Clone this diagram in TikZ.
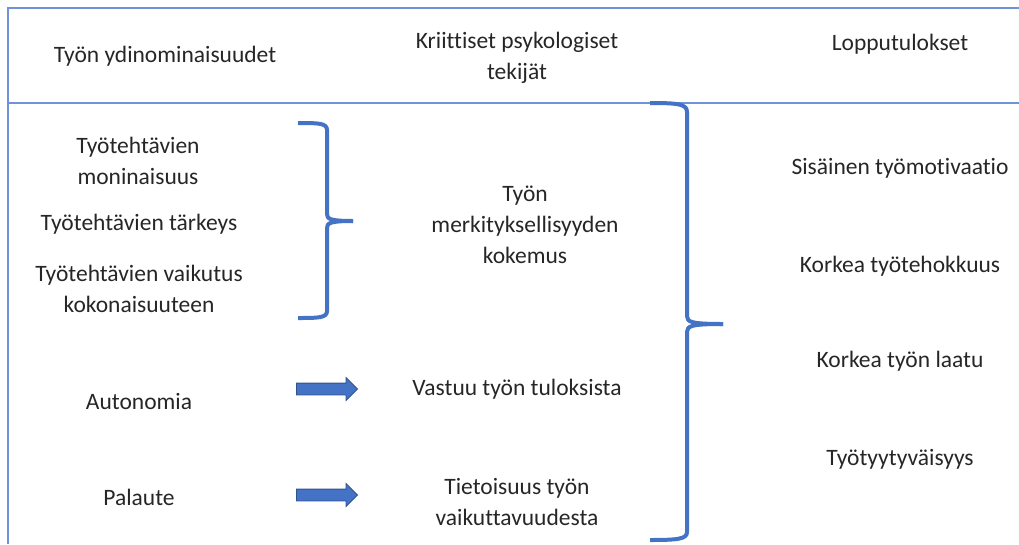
\documentclass[tikz,border=0pt]{standalone}
\usepackage{fontspec}
\setmainfont{Carlito}[Ligatures={NoCommon}]
\usepackage{tikz}
\usetikzlibrary{shapes.arrows, positioning}

\definecolor{frameblue}{HTML}{6F93D8}
\definecolor{braceblue}{HTML}{4472C4}
\definecolor{arrowedge}{HTML}{2F528F}

\begin{document}
\begin{tikzpicture}[
  x=1pt, y=-1pt,
  label/.style={align=center, inner sep=0pt, font=\fontsize{23.5}{31}\selectfont, text=black!85},
  frame/.style={draw=frameblue, line width=1.5pt},
  bracket/.style={draw=braceblue, line width=4pt, line join=round},
  blockarrow/.style={single arrow, draw=arrowedge, fill=braceblue, line width=0.8pt, minimum height=61pt, inner xsep=0pt, inner ysep=5.5pt, single arrow head extend=5.5pt, single arrow head indent=0pt}
]
  \useasboundingbox (0,0) rectangle (1019,544);
  % table lines
  \draw[frame] (8,544) -- (8,8) -- (1019,8);
  \draw[frame] (8,103) -- (1019,103);

  % column headings
  \node[label] (core) at (165,56) {Työn ydinominaisuudet};
  \node[label] (critical) at (517,58) {Kriittiset psykologiset\\tekijät};
  \node[label] (outcomes) at (900,44) {Lopputulokset};

  % core characteristics
  \node[label] (variety) at (138,161) {Työtehtävien\\moninaisuus};
  \node[label] (significance) at (139,224) {Työtehtävien tärkeys};
  \node[label] (identity) at (139,289) {Työtehtävien vaikutus\\kokonaisuuteen};
  \node[label] (autonomy) at (139,401) {Autonomia};
  \node[label] (feedback) at (139,497) {Palaute};

  % psychological states
  \node[label] (meaning) at (525,225) {Työn\\merkityksellisyyden\\kokemus};
  \node[label] (responsibility) at (517,389) {Vastuu työn tuloksista};
  \node[label] (knowledge) at (517,502) {Tietoisuus työn\\vaikuttavuudesta};

  % outcomes
  \node[label] (motivation) at (900,168) {Sisäinen työmotivaatio};
  \node[label] (performance) at (900,266) {Korkea työtehokkuus};
  \node[label] (quality) at (900,361) {Korkea työn laatu};
  \node[label] (satisfaction) at (900,459) {Työtyytyväisyys};

  % block arrows
  \node[blockarrow] (arrA) at (324,389) {};
  \node[blockarrow] (arrB) at (324,495) {};

  % small bracket
  \draw[bracket] (298,123) .. controls (318,123) and (327,123) .. (327,130)
    -- (327,214) .. controls (327,219) and (330,221) .. (353,221);
  \draw[bracket] (353,221) .. controls (330,221) and (327,223) .. (327,228)
    -- (327,311) .. controls (327,318) and (318,318) .. (298,318);

  % large bracket
  \draw[bracket] (650,103) .. controls (678,103) and (687,104) .. (687,112)
    -- (687,316) .. controls (687,322) and (691,324) .. (723,324);
  \draw[bracket] (723,324) .. controls (691,324) and (687,326) .. (687,332)
    -- (687,532) .. controls (687,539) and (678,540) .. (650,540);
\end{tikzpicture}
\end{document}
